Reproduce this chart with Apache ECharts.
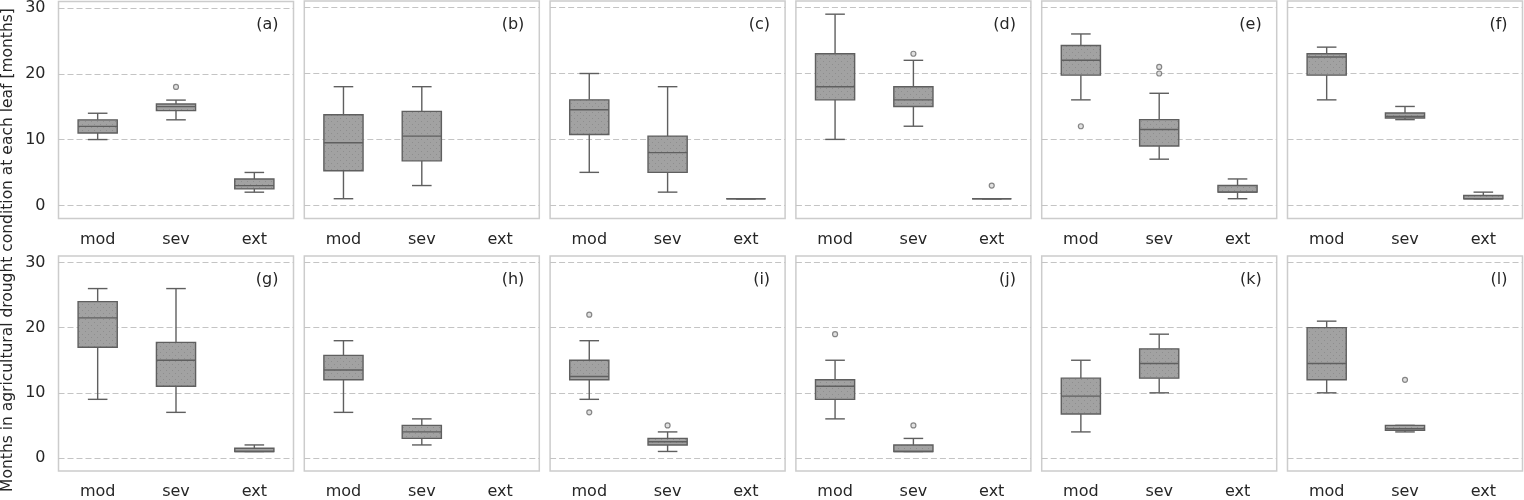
<!DOCTYPE html>
<html>
<head>
<meta charset="utf-8">
<script src="https://cdn.jsdelivr.net/npm/echarts@6/dist/echarts.min.js"></script>
<style>
html,body{margin:0;padding:0;background:#fff;}
#chart{width:1524px;height:500px;}
</style>
</head>
<body>
<div id="chart"></div>
<script>
// ---------- data ----------
const categories = ['mod', 'sev', 'ext'];
const panelLabels = ['(a)','(b)','(c)','(d)','(e)','(f)','(g)','(h)','(i)','(j)','(k)','(l)'];
const yTickLabels = [0, 10, 20, 30];
const yTitle = 'Months in agricultural drought condition at each leaf [months]';

// box stats per category: [lower whisker, Q1, median, Q3, upper whisker]; null = no box
const statsA = [[10, 11, 12, 13, 14], [13, 14.4, 15, 15.4, 16], [2, 2.5, 3, 4, 5]];
const statsB = [[1, 5.25, 9.5, 13.75, 18], [3, 6.75, 10.5, 14.25, 18], null];
const statsC = [[5, 10.75, 14.5, 16, 20], [2, 5, 8, 10.5, 18], [1, 1, 1, 1, 1]];
const statsD = [[10, 16, 18, 23, 29], [12, 15, 16, 18, 22], [1, 1, 1, 1, 1]];
const statsE = [[16, 19.75, 22, 24.25, 26], [7, 9, 11.5, 13, 17], [1, 2, 2, 3, 4]];
const statsF = [[16, 19.75, 22.5, 23, 24], [13, 13.25, 13.5, 14, 15], [1, 1, 1, 1.5, 2]];
const statsG = [[9, 17, 21.5, 24, 26], [7, 11, 15, 17.75, 26], [1, 1, 1, 1.5, 2]];
const statsH = [[7, 12, 13.5, 15.75, 18], [2, 3, 4, 5, 6], null];
const statsI = [[9, 12, 12.5, 15, 18], [1, 2, 2.5, 3, 4], null];
const statsJ = [[6, 9, 11, 12, 15], [1, 1, 1, 2, 3], null];
const statsK = [[4, 6.75, 9.5, 12.25, 15], [10, 12.25, 14.5, 16.75, 19], null];
const statsL = [[10, 12, 14.5, 20, 21], [4, 4.25, 4.5, 5, 5], null];

// outliers per category
const outA = [[], [18], []];
const outB = [[], [], []];
const outC = [[], [], []];
const outD = [[], [23], [3]];
const outE = [[12], [20, 21], []];
const outF = [[], [], []];
const outG = [[], [], []];
const outH = [[], [], []];
const outI = [[7, 22], [5], []];
const outJ = [[19], [5], []];
const outK = [[], [], []];
const outL = [[], [12], []];

const allStats = [statsA, statsB, statsC, statsD, statsE, statsF, statsG, statsH, statsI, statsJ, statsK, statsL];
const allOut = [outA, outB, outC, outD, outE, outF, outG, outH, outI, outJ, outK, outL];

// ---------- layout / style ----------
const FONT = 'DejaVu Sans';
const TEXT = '#262626';
const LINE = '#5f5f5f';
const FRAME = '#cccccc';
const GRIDLINE = '#c4c4c4';
const left0 = 58.5, step = 245.8, gw = 235, gh = 217.5;
const tops = [1, 256];
const Y_MIN = -2, Y_MAX = 31;

// dotted fill pattern for the boxes
const pat = document.createElement('canvas');
pat.width = 6; pat.height = 6;
(function () {
  const c = pat.getContext('2d');
  c.fillStyle = '#a2a2a2'; c.fillRect(0, 0, 6, 6);
  c.fillStyle = '#8e8e8e'; c.fillRect(1, 1, 1, 1); c.fillRect(4, 4, 1, 1);
})();
const BOX_FILL = {image: pat, repeat: 'repeat'};

const grids = [], xAxes = [], yAxes = [], series = [], graphics = [];

function renderBox(params, api) {
  const c = api.value(0);
  const pLow = api.coord([c, api.value(1)]);
  const pQ1 = api.coord([c, api.value(2)]);
  const pMed = api.coord([c, api.value(3)]);
  const pQ3 = api.coord([c, api.value(4)]);
  const pHigh = api.coord([c, api.value(5)]);
  const band = api.size([1, 0])[0];
  const bw = band * 0.5, cw = bw * 0.5, x = pMed[0];
  const ls = {stroke: LINE, lineWidth: 1.4};
  return {
    type: 'group',
    children: [
      {type: 'line', shape: {x1: x, y1: pHigh[1], x2: x, y2: pQ3[1]}, style: ls},
      {type: 'line', shape: {x1: x, y1: pQ1[1], x2: x, y2: pLow[1]}, style: ls},
      {type: 'line', shape: {x1: x - cw / 2, y1: pHigh[1], x2: x + cw / 2, y2: pHigh[1]}, style: ls},
      {type: 'line', shape: {x1: x - cw / 2, y1: pLow[1], x2: x + cw / 2, y2: pLow[1]}, style: ls},
      {type: 'rect', shape: {x: x - bw / 2, y: pQ3[1], width: bw, height: pQ1[1] - pQ3[1]},
        style: {fill: BOX_FILL, stroke: LINE, lineWidth: 1.4}},
      {type: 'line', shape: {x1: x - bw / 2, y1: pMed[1], x2: x + bw / 2, y2: pMed[1]}, style: ls}
    ]
  };
}

for (let i = 0; i < 12; i++) {
  const row = Math.floor(i / 6), col = i % 6;
  const gl = left0 + col * step, gt = tops[row];
  grids.push({left: gl, top: gt, width: gw, height: gh, show: true,
    borderColor: FRAME, borderWidth: 1.5, backgroundColor: 'transparent', containLabel: false});
  xAxes.push({type: 'category', gridIndex: i, data: categories, boundaryGap: true,
    axisLine: {show: false}, axisTick: {show: false}, splitLine: {show: false},
    axisLabel: {color: TEXT, fontFamily: FONT, fontSize: 16, margin: 13}});
  yAxes.push({type: 'value', gridIndex: i, min: Y_MIN, max: Y_MAX, interval: 1,
    axisLine: {show: false}, axisTick: {show: false}, splitLine: {show: false},
    axisLabel: {show: col === 0, color: TEXT, fontFamily: FONT, fontSize: 16, margin: 13,
      formatter: v => (yTickLabels.indexOf(v) >= 0 ? String(v) : '')}});

  // dashed gridlines at tick values
  series.push({type: 'line', xAxisIndex: i, yAxisIndex: i, data: [], z: 0, silent: true,
    markLine: {z: 0, silent: true, symbol: 'none', label: {show: false},
      lineStyle: {color: GRIDLINE, type: [6, 3], width: 1.2},
      data: yTickLabels.map(v => ({yAxis: v}))}});

  const boxData = [];
  allStats[i].forEach((s, ci) => { if (s) boxData.push([ci].concat(s)); });
  series.push({type: 'custom', xAxisIndex: i, yAxisIndex: i, z: 3,
    renderItem: renderBox, encode: {x: 0, y: [1, 2, 3, 4, 5]}, data: boxData});

  const outData = [];
  allOut[i].forEach((arr, ci) => arr.forEach(v => outData.push([ci, v])));
  series.push({type: 'scatter', xAxisIndex: i, yAxisIndex: i, z: 4, symbol: 'circle', symbolSize: 5,
    itemStyle: {color: '#d9d9d9', borderColor: '#6a6a6a', borderWidth: 1.2}, data: outData});

  graphics.push({type: 'text', x: gl + gw - 15, y: gt + 24,
    style: {text: panelLabels[i], fill: TEXT, font: '16px "' + FONT + '"', textAlign: 'right', textVerticalAlign: 'middle'}});
}

graphics.push({type: 'text', x: 8, y: 250, rotation: Math.PI / 2,
  style: {text: yTitle, fill: TEXT, font: '15.5px "' + FONT + '"', textAlign: 'center', textVerticalAlign: 'middle'}});

const chart = echarts.init(document.getElementById('chart'), null, {renderer: 'canvas'});
chart.setOption({
  animation: false,
  backgroundColor: '#ffffff',
  grid: grids, xAxis: xAxes, yAxis: yAxes, series: series, graphic: graphics
});
</script>
</body>
</html>
